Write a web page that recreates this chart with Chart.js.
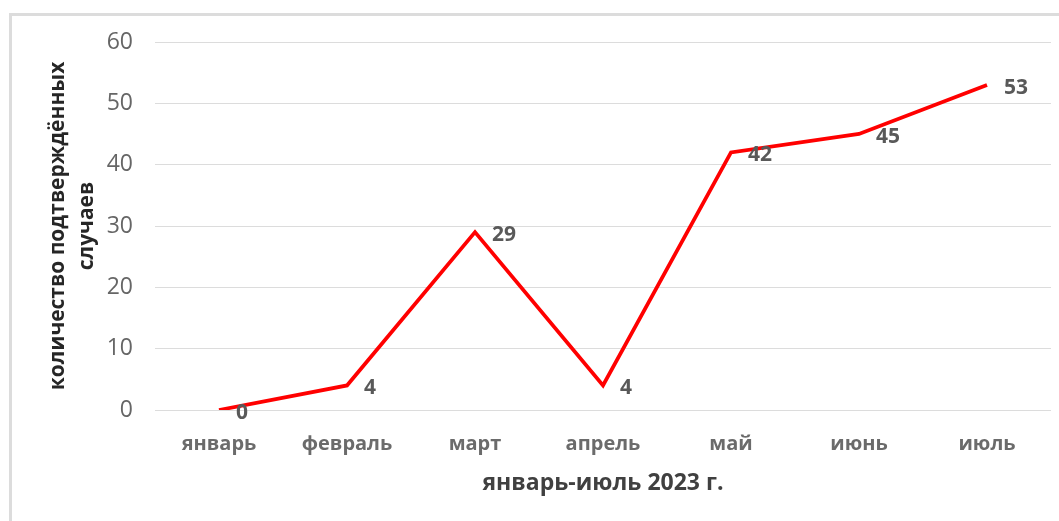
<!DOCTYPE html>
<html>
<head>
<meta charset="utf-8">
<script src="https://cdn.jsdelivr.net/npm/chart.js@4"></script>
<style>
  html, body { margin: 0; padding: 0; background: #fff; overflow: hidden; }
  #frame {
    position: absolute; left: 9px; top: 13px; width: 1100px; height: 600px;
    border: 3px solid #dcdcdc; box-sizing: border-box;
  }
  #wrap { position: absolute; left: 0; top: 0; width: 1059px; height: 521px; }
</style>
</head>
<body>
<div id="frame"></div>
<div id="wrap"><canvas id="casesChart"></canvas></div>
<script>
const months = ["январь", "февраль", "март", "апрель", "май", "июнь", "июль"];
const cases = [0, 4, 29, 4, 42, 45, 53];
const yMin = 0;
const yMax = 60;
const yStep = 10;
const xTitle = "январь-июль 2023 г.";
const yTitle = ["количество подтверждённых", "случаев"];

const fontFamily = "'Open Sans', 'Noto Sans', sans-serif";

// подписи значений справа от точек
const pointLabels = {
  id: "pointLabels",
  afterDatasetsDraw(chart) {
    const ctx = chart.ctx;
    const meta = chart.getDatasetMeta(0);
    ctx.save();
    ctx.font = "bold 21px " + fontFamily;
    ctx.fillStyle = "#595959";
    ctx.textAlign = "left";
    ctx.textBaseline = "middle";
    meta.data.forEach((pt, i) => {
      ctx.fillText(String(cases[i]), pt.x + 17, pt.y + 3);
    });
    ctx.restore();
  },
};

const ctx = document.getElementById("casesChart").getContext("2d");
const casesChart = new Chart(ctx, {
  type: "line",
  data: {
    labels: months,
    datasets: [
      {
        data: cases,
        borderColor: "#ff0000",
        borderWidth: 3.8,
        pointRadius: 0,
        tension: 0,
        fill: false,
      },
    ],
  },
  options: {
    responsive: true,
    maintainAspectRatio: false,
    animation: false,
    layout: { padding: { left: 0, top: 42, right: 8, bottom: 0 } },
    plugins: {
      legend: { display: false },
      tooltip: { enabled: false },
    },
    scales: {
      x: {
        offset: true,
        grid: { display: false, drawTicks: false },
        border: { display: false },
        ticks: {
          padding: 22,
          color: "#6b6b6b",
          font: { family: fontFamily, size: 20, weight: "bold" },
          maxRotation: 0,
        },
        title: {
          display: true,
          text: xTitle,
          color: "#404040",
          font: { family: fontFamily, size: 23, weight: "bold" },
          padding: { top: 0, bottom: 24 },
        },
        afterFit(scale) {
          scale.height = 111;
        },
      },
      y: {
        min: yMin,
        max: yMax,
        grid: { color: "#dcdcdc", lineWidth: 1, drawTicks: false },
        border: { display: false },
        ticks: {
          stepSize: yStep,
          padding: 22,
          color: "#666666",
          font: { family: fontFamily, size: 23 },
        },
        title: {
          display: true,
          text: yTitle,
          color: "#262626",
          font: { family: fontFamily, size: 21, weight: "bold", lineHeight: 1.4 },
          padding: { top: 43, bottom: 0 },
        },
        afterFit(scale) {
          scale.width = 155;
        },
      },
    },
  },
  plugins: [pointLabels],
});
</script>
</body>
</html>
